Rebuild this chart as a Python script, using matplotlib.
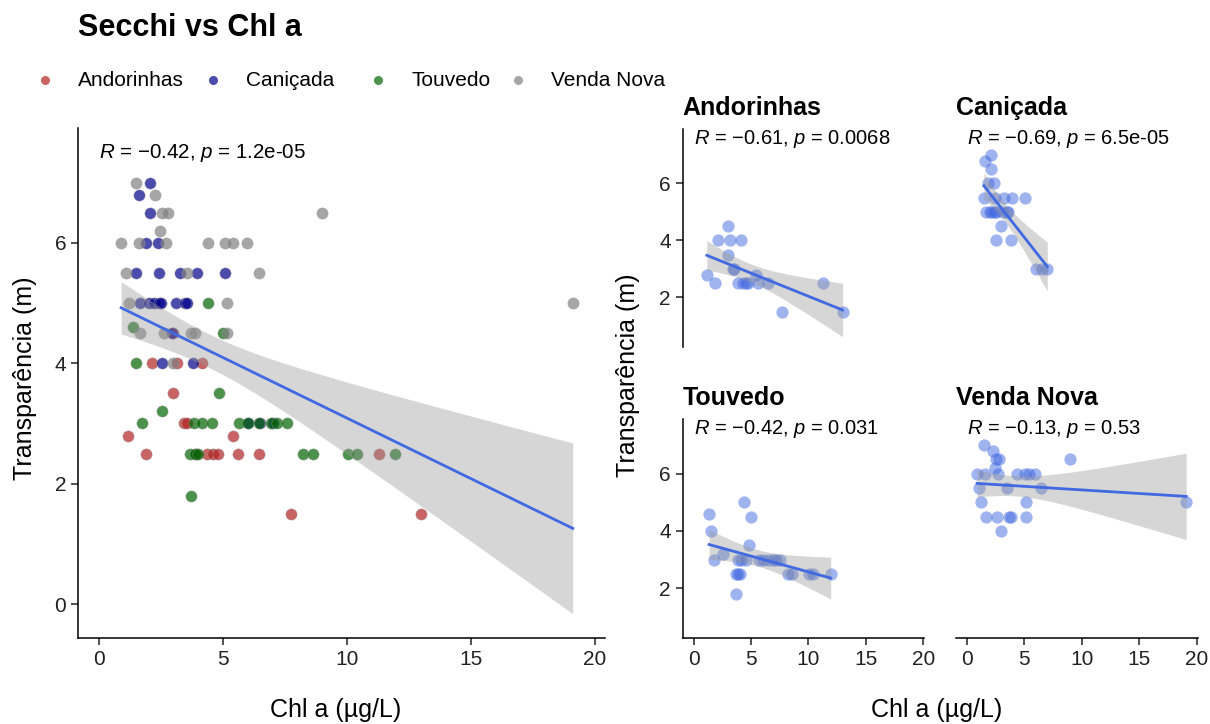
import numpy as np
import matplotlib
matplotlib.use("Agg")
import matplotlib.pyplot as plt
from matplotlib.lines import Line2D
from math import lgamma, pi, sqrt, exp

plt.rcParams["font.family"] = ["Liberation Sans", "DejaVu Sans"]
plt.rcParams["mathtext.fontset"] = "custom"
plt.rcParams["mathtext.rm"] = "Liberation Sans"
plt.rcParams["mathtext.it"] = "Liberation Sans:italic"

# dados: Chl a (ug/L) e transparencia de Secchi (m)
grupos = ["Andorinhas", "Caniçada", "Touvedo", "Venda Nova"]
cores = ["firebrick", "darkblue", "darkgreen", "grey"]

andorinhas_chl = [1.15, 1.88, 2.12, 3.13, 4.17, 2.97, 3.0, 3.43, 3.53, 3.9,
                  4.34, 4.6, 4.78, 5.41, 5.62, 6.46, 7.74, 11.3, 12.97]
andorinhas_secchi = [2.8, 2.5, 4.0, 4.0, 4.0, 3.5, 4.5, 3.0, 3.0, 2.5,
                     2.5, 2.5, 2.5, 2.8, 2.5, 2.5, 1.5, 2.5, 1.5]

canicada_chl = [2.06, 1.61, 2.06, 1.88, 2.39, 1.48, 2.43, 3.27, 3.94, 5.08,
                1.63, 2.0, 2.2, 2.43, 2.5, 3.1, 3.45, 3.55, 2.96, 2.52,
                3.8, 6.0, 6.5, 7.0]
canicada_secchi = [7.0, 6.8, 6.5, 6.0, 6.0, 5.5, 5.5, 5.5, 5.5, 5.5,
                   5.0, 5.0, 5.0, 5.0, 5.0, 5.0, 5.0, 5.0, 4.5, 4.0,
                   4.0, 3.0, 3.0, 3.0]

touvedo_chl = [1.35, 1.49, 1.75, 2.52, 3.7, 3.67, 3.87, 4.0, 3.83, 4.17,
               4.54, 4.38, 4.98, 4.85, 5.66, 6.02, 6.45, 6.92, 7.16, 7.56,
               8.24, 8.61, 10.05, 10.39, 11.94]
touvedo_secchi = [4.6, 4.0, 3.0, 3.2, 1.8, 2.5, 2.5, 2.5, 3.0, 3.0,
                  3.0, 5.0, 4.5, 3.5, 3.0, 3.0, 3.0, 3.0, 3.0, 3.0,
                  2.5, 2.5, 2.5, 2.5, 2.5]

vendanova_chl = [1.49, 2.27, 2.53, 2.79, 9.0, 2.46, 0.89, 1.59, 2.70, 4.4,
                 5.08, 5.42, 5.95, 1.08, 3.53, 6.46, 1.22, 5.15, 19.1, 1.63,
                 2.62, 3.7, 3.85, 5.15, 2.97]
vendanova_secchi = [7.0, 6.8, 6.5, 6.5, 6.5, 6.2, 6.0, 6.0, 6.0, 6.0,
                    6.0, 6.0, 6.0, 5.5, 5.5, 5.5, 5.0, 5.0, 5.0, 4.5,
                    4.5, 4.5, 4.5, 4.5, 4.0]

chl = [andorinhas_chl, canicada_chl, touvedo_chl, vendanova_chl]
secchi = [andorinhas_secchi, canicada_secchi, touvedo_secchi, vendanova_secchi]

rotulo_geral = r"$\mathit{R}$ = −0.42, $\mathit{p}$ = 1.2e-05"
rotulos_cor = [r"$\mathit{R}$ = −0.61, $\mathit{p}$ = 0.0068",
               r"$\mathit{R}$ = −0.69, $\mathit{p}$ = 6.5e-05",
               r"$\mathit{R}$ = −0.42, $\mathit{p}$ = 0.031",
               r"$\mathit{R}$ = −0.13, $\mathit{p}$ = 0.53"]

W, H = 1210, 724


def caixa(esq, topo, dir, base):
    """pixels -> [left, bottom, width, height] em fracao da figura"""
    return [esq / W, 1 - base / H, (dir - esq) / W, (base - topo) / H]


def t_crit(df, q=0.975):
    t = np.linspace(0, 12, 24001)
    c = exp(lgamma((df + 1) / 2) - lgamma(df / 2)) / sqrt(df * pi)
    dens = c * (1 + t ** 2 / df) ** (-(df + 1) / 2)
    cdf = 0.5 + np.concatenate([[0], np.cumsum((dens[1:] + dens[:-1]) / 2 * np.diff(t))])
    return np.interp(q, cdf, t)


def ajuste_lm(x, y, n=80):
    x, y = np.asarray(x), np.asarray(y)
    b, a = np.polyfit(x, y, 1)
    xs = np.linspace(x.min(), x.max(), n)
    y_fit = a + b * xs
    s = np.sqrt(np.sum((y - (a + b * x)) ** 2) / (len(x) - 2))
    se = s * np.sqrt(1 / len(x) + (xs - x.mean()) ** 2 / np.sum((x - x.mean()) ** 2))
    tc = t_crit(len(x) - 2)
    return xs, y_fit, y_fit - tc * se, y_fit + tc * se


def desenha_ajuste(ax, x, y):
    xs, y_fit, lo, hi = ajuste_lm(x, y)
    ax.fill_between(xs, lo, hi, color="#999999", alpha=0.4, lw=0, zorder=3)
    ax.plot(xs, y_fit, color="royalblue", lw=2, zorder=4)


def estilo(ax, esquerda=True, baixo=True):
    for lado in ["top", "right"]:
        ax.spines[lado].set_visible(False)
    ax.spines["left"].set_visible(esquerda)
    ax.spines["bottom"].set_visible(baixo)
    for sp in ax.spines.values():
        sp.set_linewidth(1.1)
    ax.tick_params(axis="both", labelsize=15, colors="#222222", length=5, width=1.1)
    ax.tick_params(axis="y", left=esquerda, labelleft=esquerda)
    ax.tick_params(axis="x", bottom=baixo, labelbottom=baixo)
    ax.set_xticks([0, 5, 10, 15, 20])


fig = plt.figure(figsize=(W / 100, H / 100), dpi=100)

# painel geral
ax = fig.add_axes(caixa(78, 128, 605, 638))
for x, y, cor in zip(chl, secchi, cores):
    ax.scatter(x, y, s=66, color=cor, alpha=0.7, lw=0.4, edgecolor="#9a9a9a", zorder=2)
todos_x = np.concatenate([np.asarray(v) for v in chl])
todos_y = np.concatenate([np.asarray(v) for v in secchi])
desenha_ajuste(ax, todos_x, todos_y)
ax.text(0.0, 7.5, rotulo_geral, fontsize=14.8, va="center", ha="left")
ax.set_xlim(-0.85, 20.4)
ax.set_ylim(-0.565, 7.91)
ax.set_yticks([0, 2, 4, 6])
estilo(ax)

# paineis por albufeira
posicoes = [(682.7, 129.3, 924.4, 347.3), (956, 129.3, 1197.7, 347.3),
            (682.7, 419.3, 924.4, 638.3), (956, 419.3, 1197.7, 638.3)]
eixos_y = [True, False, True, False]
eixos_x = [False, False, True, True]
for i, nome in enumerate(grupos):
    esq, topo, dir, base = posicoes[i]
    axp = fig.add_axes(caixa(esq, topo, dir, base))
    axp.scatter(chl[i], secchi[i], s=78, color="royalblue", alpha=0.5, lw=0, zorder=2)
    desenha_ajuste(axp, chl[i], secchi[i])
    axp.text(0.0, 7.55, rotulos_cor[i], fontsize=14.5, va="center", ha="left")
    axp.set_xlim(-0.95, 20.1)
    axp.set_ylim(0.25, 7.9)
    axp.set_yticks([2, 4, 6])
    estilo(axp, esquerda=eixos_y[i], baixo=eixos_x[i])
    fig.text(esq / W, 1 - (topo - 21) / H, nome, fontsize=18, fontweight="bold",
             ha="left", va="center")

# titulo, legenda e rotulos dos eixos
fig.text(78 / W, 1 - 28 / H, "Secchi vs Chl a", fontsize=22, fontweight="bold",
         ha="left", va="center")
leg_marcador_x = [45, 213, 378, 518]
for nome, cor, mx in zip(grupos, cores, leg_marcador_x):
    fig.add_artist(Line2D([mx / W], [1 - 80 / H], marker="o", markersize=6.5,
                          color=cor, alpha=0.7, lw=0, markeredgewidth=0,
                          transform=fig.transFigure))
    fig.text((mx + 33) / W, 1 - 80 / H, nome, fontsize=15, ha="left", va="center")

fig.text(25 / W, 1 - 378 / H, "Transparência (m)", fontsize=18, rotation=90,
         ha="center", va="center")
fig.text(628 / W, 1 - 375 / H, "Transparência (m)", fontsize=18, rotation=90,
         ha="center", va="center")
fig.text(336 / W, 1 - 710 / H, "Chl a (µg/L)", fontsize=18, ha="center", va="center")
fig.text(937 / W, 1 - 710 / H, "Chl a (µg/L)", fontsize=18, ha="center", va="center")

fig.savefig("out.png", dpi=100)
